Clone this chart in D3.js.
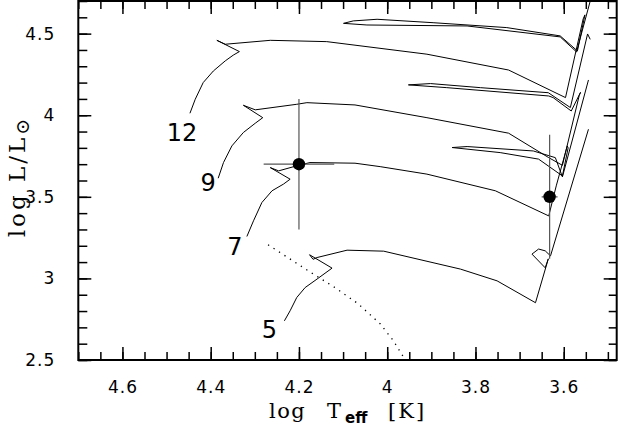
<!DOCTYPE html>
<html><head><meta charset="utf-8">
<script src="https://cdn.jsdelivr.net/npm/d3@7"></script>
<style>body{margin:0;background:#fff}svg{display:block}</style>
</head><body>
<svg id="c" width="619" height="434"></svg>
<script>
// ---- data (log Teff, log L/Lsun) ----
const massLabels = ["12", "9", "7", "5"];
const track12 = [[4.447,4.012],[4.435,4.098],[4.417,4.200],[4.394,4.271],[4.367,4.333],[4.349,4.368],[4.335,4.390],[4.386,4.459],[4.367,4.435],[4.265,4.459],[4.137,4.451],[3.910,4.374],[3.725,4.277],[3.596,4.108],[3.556,4.590],[3.552,4.615],[3.569,4.394],[3.608,4.486],[3.729,4.537],[3.896,4.567],[4.023,4.588],[4.077,4.578],[4.099,4.563],[4.046,4.553],[3.819,4.547],[3.608,4.480],[3.571,4.388],[3.540,4.700],[3.526,4.820]];
const track9 = [[4.383,3.614],[4.371,3.710],[4.352,3.812],[4.326,3.894],[4.299,3.951],[4.282,3.985],[4.326,4.061],[4.299,4.033],[4.205,4.067],[4.182,4.077],[4.073,4.063],[3.910,3.985],[3.725,3.890],[3.634,3.740],[3.603,3.693],[3.565,4.120],[3.562,4.140],[3.583,4.026],[3.624,4.108],[3.634,4.118],[3.865,4.169],[3.952,4.186],[3.902,4.194],[3.789,4.169],[3.635,4.138],[3.585,4.047],[3.546,4.498],[3.540,4.465]];
const track7 = [[4.318,3.257],[4.303,3.353],[4.284,3.465],[4.261,3.537],[4.235,3.578],[4.220,3.608],[4.265,3.679],[4.246,3.659],[4.205,3.690],[4.175,3.710],[4.073,3.706],[4.016,3.685],[3.910,3.639],[3.755,3.537],[3.634,3.383],[3.617,3.567],[3.592,3.812],[3.590,3.800],[3.603,3.628],[3.657,3.731],[3.744,3.771],[3.853,3.802],[3.819,3.808],[3.669,3.781],[3.619,3.740],[3.603,3.622],[3.544,4.216]];
const track5 = [[4.233,2.740],[4.220,2.802],[4.205,2.883],[4.186,2.944],[4.159,2.996],[4.125,3.063],[4.176,3.145],[4.168,3.117],[4.159,3.128],[4.091,3.173],[4.008,3.167],[3.834,3.057],[3.751,2.985],[3.664,2.851],[3.635,3.120],[3.642,3.065],[3.672,3.149],[3.657,3.180],[3.642,3.169],[3.630,3.138],[3.544,3.914]];
const dottedLine = [[4.270,3.206],[4.175,3.040],[4.118,2.943],[4.066,2.845],[4.016,2.722],[3.986,2.618],[3.959,2.500]];
const starT = [4.2, 3.632];
const starL = [3.7, 3.5];
const starErrT = [0.08, 0.018];
const starErrL = [0.4, 0.38];
const xTickLabels = [4.6, 4.4, 4.2, 4.0, 3.8, 3.6];
const yTickLabels = [2.5, 3.0, 3.5, 4.0, 4.5];

// ---- layout ----
const L = 78.3, R = 616.7, T = 1, B = 360;
const svg = d3.select("#c");
const x = d3.scaleLinear().domain([4.7, 3.48]).range([L, R]);
const y = d3.scaleLinear().domain([2.5, 4.7]).range([B, T]);

svg.append("defs").append("clipPath").attr("id","clip")
  .append("rect").attr("x",L).attr("y",T).attr("width",R-L).attr("height",B-T);

const plot = svg.append("g").attr("clip-path","url(#clip)");
const line = d3.line().x(d => x(d[0])).y(d => y(d[1]));
const tracks = [track12, track9, track7, track5];
tracks.forEach(t => {
  plot.append("path").attr("d", line(t)).attr("fill","none")
    .attr("stroke","#000").attr("stroke-width",1).attr("stroke-linejoin","round");
});
plot.append("path").attr("d", line(dottedLine)).attr("fill","none")
  .attr("stroke","#000").attr("stroke-width",1.3).attr("stroke-dasharray","1.3,5.2");

// error bars + stars
starT.forEach((t,i) => {
  plot.append("line").attr("x1",x(t)).attr("x2",x(t))
    .attr("y1",y(starL[i]-starErrL[i])).attr("y2",y(starL[i]+starErrL[i]))
    .attr("stroke","#555").attr("stroke-width",1.2);
  plot.append("line").attr("x1",x(t-starErrT[i])).attr("x2",x(t+starErrT[i]))
    .attr("y1",y(starL[i])).attr("y2",y(starL[i]))
    .attr("stroke","#555").attr("stroke-width",1.2);
  plot.append("circle").attr("cx",x(t)).attr("cy",y(starL[i])).attr("r",6.2).attr("fill","#000");
});

// mass labels near ZAMS starts
const labelDx = [-8, -10, -12, -15];
const labelDy = [28, 13, 19, 17];
massLabels.forEach((m,i) => {
  const p = tracks[i][0];
  svg.append("text").attr("x", x(p[0]) + labelDx[i]).attr("y", y(p[1]) + labelDy[i])
    .attr("text-anchor","middle").attr("font-family","DejaVu Sans").attr("font-size",24)
    .text(m);
});

// axes
const fmt = d => String(+d.toFixed(2));
const xMinor = d3.range(4.7, 3.47, -0.05);
const yMinor = d3.range(2.5, 4.71, 0.1);
function styleAxis(g){
  g.select(".domain").remove();
  g.selectAll(".tick line").attr("stroke","#000").attr("stroke-width",1.5);
}
svg.append("g").attr("transform",`translate(0,${B})`)
  .call(d3.axisBottom(x).tickValues(xMinor).tickSizeInner(-8).tickSizeOuter(0).tickFormat(""))
  .call(styleAxis);
svg.append("g").attr("transform",`translate(0,${T})`)
  .call(d3.axisTop(x).tickValues(xMinor).tickSizeInner(-8).tickSizeOuter(0).tickFormat(""))
  .call(styleAxis);
svg.append("g").attr("transform",`translate(${L},0)`)
  .call(d3.axisLeft(y).tickValues(yMinor).tickSizeInner(-9).tickSizeOuter(0).tickFormat(""))
  .call(styleAxis);
svg.append("g").attr("transform",`translate(${R},0)`)
  .call(d3.axisRight(y).tickValues(yMinor).tickSizeInner(-8).tickSizeOuter(0).tickFormat(""))
  .call(styleAxis);

const xb = svg.append("g").attr("transform",`translate(0,${B})`)
  .call(d3.axisBottom(x).tickValues(xTickLabels).tickSizeInner(-13).tickSizeOuter(0).tickPadding(21).tickFormat(fmt))
  .call(styleAxis);
svg.append("g").attr("transform",`translate(0,${T})`)
  .call(d3.axisTop(x).tickValues(xTickLabels).tickSizeInner(-13).tickSizeOuter(0).tickFormat(""))
  .call(styleAxis);
const yl = svg.append("g").attr("transform",`translate(${L},0)`)
  .call(d3.axisLeft(y).tickValues(yTickLabels).tickSizeInner(-13).tickSizeOuter(0).tickPadding(23).tickFormat(fmt))
  .call(styleAxis);
svg.append("g").attr("transform",`translate(${R},0)`)
  .call(d3.axisRight(y).tickValues(yTickLabels).tickSizeInner(-13).tickSizeOuter(0).tickFormat(""))
  .call(styleAxis);
svg.selectAll(".tick text").attr("font-family","DejaVu Sans").attr("font-size",17)
  .attr("letter-spacing",1).attr("fill","#000");
xb.selectAll(".tick text").attr("dy","0.71em");

// frame
svg.append("rect").attr("x",L).attr("y",T).attr("width",R-L).attr("height",B-T)
  .attr("fill","none").attr("stroke","#000").attr("stroke-width",2);

// axis titles
const xt = svg.append("text").attr("y",418).attr("font-family","DejaVu Serif").attr("font-size",21).attr("fill","#000");
xt.append("tspan").attr("x",269).attr("letter-spacing",1.5).text("log");
xt.append("tspan").attr("x",327).text("T");
xt.append("tspan").attr("x",345).attr("dy",5).attr("font-size",15).attr("font-family","DejaVu Sans").attr("font-weight","bold").text("eff");
xt.append("tspan").attr("x",388).attr("dy",-5).attr("letter-spacing",2).text("[K]");

const yt = svg.append("text").attr("transform","translate(25,178) rotate(-90)")
  .attr("text-anchor","middle").attr("font-family","DejaVu Serif").attr("font-size",23).attr("fill","#000");
yt.append("tspan").attr("letter-spacing",3).text("log L/L");
yt.append("tspan").attr("dy",4).attr("font-size",19).text("⊙");
</script>
</body></html>
